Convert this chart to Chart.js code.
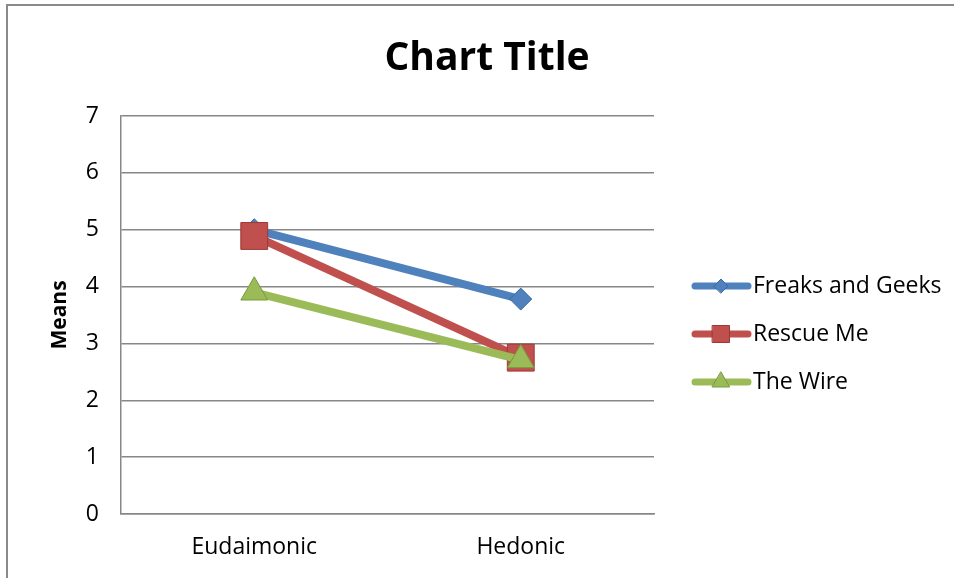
<!DOCTYPE html>
<html>
<head>
<meta charset="utf-8">
<script src="https://cdn.jsdelivr.net/npm/chart.js@4/dist/chart.umd.min.js"></script>
<style>
  html, body { margin: 0; padding: 0; background: #fff; overflow: hidden; }
  #wrap { position: relative; width: 954px; height: 578px; }
  #frame { position: absolute; left: 6px; top: 4px; width: 2000px; height: 2000px;
           border-top: 2px solid #8a8a8a; border-left: 2px solid #8a8a8a; pointer-events: none; }
  canvas { position: absolute; left: 0; top: 0; }
</style>
</head>
<body>
<div id="wrap">
  <canvas id="chart" width="954" height="578"></canvas>
  <div id="frame"></div>
</div>
<script>
/* Means by show — Eudaimonic vs Hedonic */

const chartTitle = 'Chart Title';
const yAxisTitle = 'Means';
const categories = ['Eudaimonic', 'Hedonic'];
const seriesNames = ['Freaks and Geeks', 'Rescue Me', 'The Wire'];
const freaksAndGeeks = [5.0, 3.78];
const rescueMe = [4.89, 2.75];
const theWire = [3.9, 2.71];
const yMin = 0, yMax = 7, yStep = 1;

const FONT = "'Open Sans', 'Noto Sans', sans-serif";

const styles = [
  { color: '#4F81BD', edge: '#3a6aa3', point: 'rectRot',  radius: 11,  legendRadius: 7 },
  { color: '#C0504D', edge: '#9c3835', point: 'rect',     radius: 19,  legendRadius: 12 },
  { color: '#9BBB59', edge: '#789a3c', point: 'triangle', radius: 15.5, legendRadius: 10 },
];

const values = [freaksAndGeeks, rescueMe, theWire];

// title + excel-style legend (line with marker), drawn after the chart
const decorPlugin = {
  id: 'decor',
  afterDraw(chart) {
    const ctx = chart.ctx;
    ctx.save();
    ctx.fillStyle = '#000';
    ctx.font = `bold 39px ${FONT}`;
    ctx.textAlign = 'center';
    ctx.textBaseline = 'middle';
    ctx.fillText(chartTitle, 487, 59);

    const x0 = 695, x1 = 748, rowY = [286, 334, 382];
    chart.data.datasets.forEach((ds, i) => {
      const s = styles[i], y = rowY[i];
      ctx.strokeStyle = s.color;
      ctx.lineWidth = 7;
      ctx.lineCap = 'round';
      ctx.beginPath(); ctx.moveTo(x0, y); ctx.lineTo(x1, y); ctx.stroke();
      ctx.fillStyle = s.color;
      ctx.strokeStyle = s.edge;
      ctx.lineWidth = 1;
      Chart.helpers.drawPoint(ctx, { pointStyle: s.point, radius: s.legendRadius, rotation: 0, borderWidth: 1 }, 721, y);
      ctx.fillStyle = '#000';
      ctx.font = `23px ${FONT}`;
      ctx.textAlign = 'left';
      ctx.textBaseline = 'middle';
      ctx.fillText(ds.label, 753, y);
    });
    ctx.restore();
  }
};

new Chart(document.getElementById('chart'), {
  type: 'line',
  data: {
    labels: categories,
    datasets: seriesNames.map((name, i) => ({
      label: name,
      data: values[i],
      borderColor: styles[i].color,
      backgroundColor: styles[i].color,
      borderWidth: 8,
      pointStyle: styles[i].point,
      pointRadius: styles[i].radius,
      pointHoverRadius: styles[i].radius,
      pointBackgroundColor: styles[i].color,
      pointBorderColor: styles[i].edge,
      pointBorderWidth: 1,
      tension: 0,
      order: 3 - i,
    })),
  },
  options: {
    responsive: false,
    animation: false,
    layout: { padding: { left: 0, right: 300, top: 116, bottom: 0 } },
    plugins: {
      legend: { display: false },
      title: { display: false },
      tooltip: { enabled: false },
    },
    scales: {
      x: {
        offset: true,
        grid: { display: false, drawTicks: false },
        border: { display: true, color: '#878787', width: 1.5 },
        ticks: { color: '#000', font: { family: FONT, size: 23 }, padding: 20 },
        afterFit(scale) { scale.height = 64; },
      },
      y: {
        min: yMin, max: yMax,
        grid: { color: '#878787', lineWidth: 1.5, drawTicks: false },
        border: { display: true, color: '#878787', width: 1.5 },
        ticks: { stepSize: yStep, color: '#000', font: { family: FONT, size: 23 }, padding: 22 },
        title: { display: true, text: yAxisTitle, color: '#000', font: { family: FONT, size: 21, weight: 'bold' }, padding: { top: 47, bottom: 0 } },
        afterFit(scale) { scale.width = 121; },
      },
    },
  },
  plugins: [decorPlugin],
});
</script>
</body>
</html>
